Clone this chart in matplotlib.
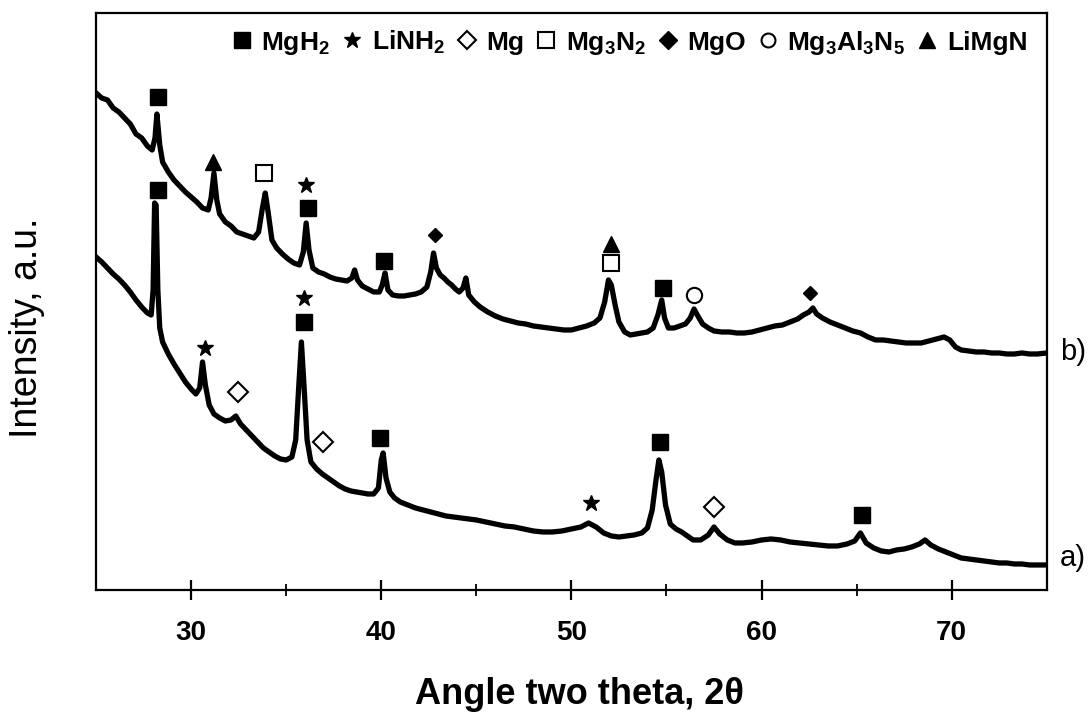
import matplotlib
matplotlib.use("Agg")
import matplotlib.pyplot as plt
from matplotlib.lines import Line2D
from matplotlib.ticker import FixedLocator

plt.rcParams['font.family'] = ['Liberation Sans', 'DejaVu Sans']
plt.rcParams['mathtext.fontset'] = 'custom'
plt.rcParams['mathtext.rm'] = 'Liberation Sans:bold'
plt.rcParams['mathtext.it'] = 'Liberation Sans:bold'
plt.rcParams['mathtext.bf'] = 'Liberation Sans:bold'

# pattern b) (upper trace), intensity in arbitrary units
two_theta_b = [25.0, 25.3, 25.6, 25.9, 26.2, 26.5, 26.8, 27.1, 27.4, 27.7, 27.95, 28.1, 28.2, 28.35,
               28.5, 28.8, 29.1, 29.4, 29.7, 30.0, 30.3, 30.6, 30.9, 31.05, 31.2, 31.35, 31.5, 31.8,
               32.1, 32.4, 32.7, 33.0, 33.3, 33.55, 33.75, 33.9, 34.05, 34.25, 34.5, 34.8, 35.1, 35.4,
               35.7, 35.9, 36.05, 36.2, 36.4, 36.7, 37.0, 37.3, 37.6, 37.9, 38.2, 38.45, 38.6, 38.75,
               39.0, 39.3, 39.6, 39.9, 40.05, 40.2, 40.35, 40.6, 40.9, 41.2, 41.5, 41.8, 42.1, 42.4,
               42.6, 42.75, 42.9, 43.1, 43.3, 43.5, 43.7, 43.9, 44.1, 44.3, 44.45, 44.6, 44.9, 45.2,
               45.6, 46.0, 46.4, 46.8, 47.2, 47.6, 48.0, 48.4, 48.8, 49.2, 49.6, 50.0, 50.4, 50.8,
               51.2, 51.5, 51.75, 51.95, 52.1, 52.3, 52.5, 52.8, 53.1, 53.4, 53.7, 54.0, 54.3, 54.55,
               54.75, 54.9, 55.1, 55.4, 55.7, 56.0, 56.25, 56.45, 56.65, 56.9, 57.2, 57.5, 57.9, 58.3,
               58.7, 59.1, 59.5, 59.9, 60.3, 60.7, 61.1, 61.5, 61.9, 62.2, 62.5, 62.7, 62.9, 63.2,
               63.6, 64.0, 64.4, 64.8, 65.2, 65.6, 66.0, 66.4, 66.8, 67.2, 67.6, 68.0, 68.4, 68.8,
               69.2, 69.6, 69.9, 70.2, 70.5, 70.9, 71.3, 71.7, 72.1, 72.5, 72.9, 73.3, 73.7, 74.1,
               74.5, 75.0]
intensity_b = [497, 492, 490, 482, 478, 472, 466, 456, 452, 444, 440, 452, 476, 445,
               428, 418, 410, 404, 398, 393, 388, 382, 380, 392, 417, 390, 376, 368,
               364, 358, 356, 354, 352, 358, 382, 397, 378, 350, 342, 336, 331, 327,
               325, 338, 367, 340, 322, 318, 316, 313, 311, 310, 309, 312, 320, 310,
               304, 301, 298, 298, 305, 317, 300, 295, 294, 294, 295, 296, 298, 303,
               318, 337, 322, 315, 312, 308, 305, 301, 298, 302, 312, 295, 288, 283,
               278, 274, 271, 269, 267, 266, 264, 263, 262, 261, 260, 260, 262, 264,
               267, 272, 288, 310, 305, 285, 268, 258, 255, 256, 257, 258, 262, 275,
               290, 272, 262, 262, 264, 266, 272, 281, 274, 266, 262, 259, 258, 258,
               257, 257, 258, 260, 262, 264, 265, 268, 271, 275, 278, 282, 276, 272,
               268, 265, 262, 259, 257, 253, 250, 250, 249, 248, 247, 247, 247, 249,
               251, 253, 250, 243, 240, 239, 238, 238, 237, 237, 236, 236, 237, 236,
               236, 237]

# pattern a) (lower trace)
two_theta_a = [25.0, 25.3, 25.6, 25.9, 26.2, 26.5, 26.8, 27.1, 27.4, 27.7, 27.9, 28.0, 28.08, 28.16,
               28.25, 28.35, 28.5, 28.8, 29.1, 29.4, 29.7, 30.0, 30.25, 30.45, 30.6, 30.75, 30.95,
               31.2, 31.5, 31.8, 32.1, 32.35, 32.6, 32.9, 33.2, 33.5, 33.8, 34.1, 34.4, 34.7, 35.0,
               35.3, 35.5, 35.65, 35.8, 35.95, 36.1, 36.3, 36.6, 36.9, 37.2, 37.5, 37.8, 38.1, 38.4,
               38.7, 39.0, 39.3, 39.6, 39.85, 40.0, 40.1, 40.25, 40.45, 40.7, 41.0, 41.4, 41.8, 42.2,
               42.6, 43.0, 43.4, 43.8, 44.2, 44.6, 45.0, 45.5, 46.0, 46.5, 47.0, 47.5, 48.0, 48.5,
               49.0, 49.5, 50.0, 50.5, 50.9, 51.3, 51.7, 52.1, 52.5, 52.9, 53.3, 53.7, 54.0, 54.25,
               54.45, 54.6, 54.75, 54.95, 55.2, 55.5, 55.8, 56.1, 56.4, 56.8, 57.2, 57.5, 57.8, 58.2,
               58.6, 59.0, 59.5, 60.0, 60.5, 61.0, 61.5, 62.0, 62.5, 63.0, 63.5, 64.0, 64.5, 64.9,
               65.2, 65.5, 65.9, 66.3, 66.7, 67.1, 67.5, 67.9, 68.3, 68.6, 68.9, 69.3, 69.7, 70.1,
               70.5, 70.9, 71.3, 71.7, 72.1, 72.5, 72.9, 73.3, 73.7, 74.1, 74.5, 75.0]
intensity_a = [333, 328, 322, 316, 311, 305, 298, 290, 283, 277, 275, 300, 387, 385,
               300, 262, 248, 236, 226, 217, 208, 201, 196, 202, 228, 205, 185,
               176, 172, 169, 170, 174, 166, 160, 154, 148, 142, 138, 134, 131, 130,
               133, 150, 200, 248, 200, 150, 128, 121, 116, 112, 108, 104, 101, 99,
               98, 97, 96, 96, 102, 130, 137, 112, 98, 92, 88, 85, 82, 80,
               78, 76, 74, 73, 72, 71, 70, 68, 66, 64, 63, 61, 59, 58,
               58, 59, 61, 63, 67, 63, 57, 54, 53, 54, 55, 57, 62, 80,
               110, 130, 118, 85, 66, 61, 58, 54, 50, 50, 55, 63, 56, 50,
               47, 47, 48, 50, 51, 50, 48, 47, 46, 45, 44, 44, 46, 49,
               57, 47, 42, 39, 38, 40, 41, 43, 46, 50, 45, 41, 38, 35,
               32, 31, 30, 29, 28, 27, 27, 26, 26, 25, 25, 25]

# phase markers (2theta, intensity) as labelled on the figure
mgh2_x = [28.26, 36.16, 40.16, 54.82, 28.26, 35.92, 39.95, 54.68, 65.26]
mgh2_y = [493, 382, 329, 302, 400, 268, 152, 148, 75]
linh2_x = [36.05, 35.95, 30.72, 51.03]
linh2_y = [405, 292, 242, 87]
mg_x = [32.47, 36.95, 57.5]
mg_y = [198, 148, 83]
mg3n2_x = [33.84, 52.1]
mg3n2_y = [417, 327]
mgo_x = [42.84, 62.53]
mgo_y = [355, 297]
mg3al3n5_x = [56.47]
mg3al3n5_y = [295]
limgn_x = [31.16, 52.1]
limgn_y = [428, 346]

legend_labels = ['MgH$_2$', 'LiNH$_2$', 'Mg', 'Mg$_3$N$_2$', 'MgO', 'Mg$_3$Al$_3$N$_5$', 'LiMgN']

fig = plt.figure(figsize=(10.89, 7.14), dpi=100)
ax = fig.add_axes([0.0882, 0.1737, 0.873, 0.8081])

ax.plot(two_theta_b, intensity_b, color='black', lw=3.8, zorder=2)
ax.plot(two_theta_a, intensity_a, color='black', lw=3.8, zorder=2)

ax.plot(mgh2_x, mgh2_y, ls='none', marker='s', ms=11, color='black', zorder=3)
ax.plot(linh2_x, linh2_y, ls='none', marker='*', ms=12, color='black', zorder=3)
ax.plot(mg_x, mg_y, ls='none', marker='D', ms=10, mfc='white', mec='black', mew=1.5, zorder=3)
ax.plot(mg3n2_x, mg3n2_y, ls='none', marker='s', ms=12, mfc='white', mec='black', mew=1.5, zorder=3)
ax.plot(mgo_x, mgo_y, ls='none', marker='D', ms=7, color='black', zorder=3)
ax.plot(mg3al3n5_x, mg3al3n5_y, ls='none', marker='o', ms=11, mfc='white', mec='black', mew=1.5, zorder=3)
ax.plot(limgn_x, limgn_y, ls='none', marker='^', ms=12, color='black', zorder=3)

handles = [
    Line2D([], [], ls='none', marker='s', ms=11, color='black'),
    Line2D([], [], ls='none', marker='*', ms=12, color='black'),
    Line2D([], [], ls='none', marker='D', ms=9, mfc='white', mec='black', mew=1.5),
    Line2D([], [], ls='none', marker='s', ms=11, mfc='white', mec='black', mew=1.5),
    Line2D([], [], ls='none', marker='D', ms=9, color='black'),
    Line2D([], [], ls='none', marker='o', ms=10, mfc='white', mec='black', mew=1.5),
    Line2D([], [], ls='none', marker='^', ms=11, color='black'),
]
ax.legend(handles, legend_labels, ncol=7, loc='upper right', bbox_to_anchor=(0.999, 1.005),
          frameon=False, handlelength=0.8, handletextpad=0.35, columnspacing=0.42,
          borderaxespad=0.3, prop={'weight': 'bold', 'size': 19})

ax.set_xlim(25, 75)
ax.set_ylim(0, 577)
ax.set_yticks([])
ax.set_xticks([30, 40, 50, 60, 70])
ax.xaxis.set_minor_locator(FixedLocator([35, 45, 55, 65]))
ax.tick_params(axis='x', which='major', direction='inout', length=15, width=1.6,
               labelsize=20, pad=14)
ax.tick_params(axis='x', which='minor', direction='inout', length=9, width=1.3)
for lab in ax.get_xticklabels():
    lab.set_fontweight('bold')
for sp in ax.spines.values():
    sp.set_linewidth(1.6)

ax.set_xlabel('Angle two theta, 2θ', fontsize=26, fontweight='bold')
ax.xaxis.set_label_coords(0.509, -0.15)
ax.set_ylabel('Intensity, a.u.', fontsize=27)
ax.yaxis.set_label_coords(-0.054, 0.454)

fig.text(1060 / 1089, 1 - 352 / 714, 'b)', fontsize=21, ha='left', va='center')
fig.text(1060 / 1089, 1 - 558 / 714, 'a)', fontsize=21, ha='left', va='center')

fig.savefig('out.png', dpi=100)
